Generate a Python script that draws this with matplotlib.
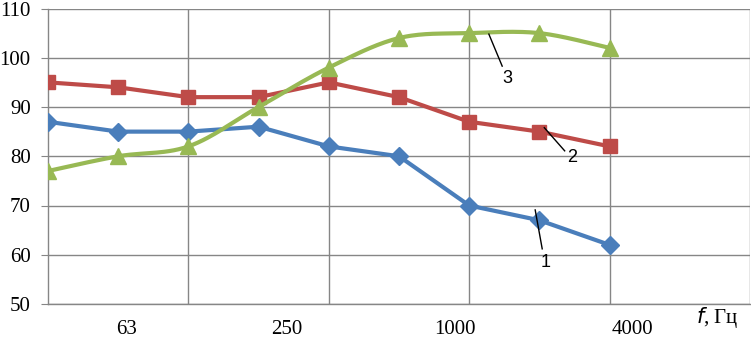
import numpy as np
import matplotlib
matplotlib.use('Agg')
import matplotlib.pyplot as plt

# octave-band points (9 of them), only some are labelled on the picture
x_pos = list(range(9))
s1 = [87, 85, 85, 86, 82, 80, 70, 67, 62]       # curve 1
s2 = [95, 94, 92, 92, 95, 92, 87, 85, 82]       # curve 2
s3 = [77, 80, 82, 90, 98, 104, 105, 105, 102]   # curve 3 (smoothed)
freq_labels = ['63', '250', '1000', '4000']
freq_label_x = [1.12, 3.4, 5.8, 8.32]

blue = '#4A7EBB'
red = '#BE4B48'
green = '#98B954'
grid_c = '#868686'


def smooth(xs, ys, n=30):
    # bezier smoothing like the spreadsheet's "smoothed line"
    p = np.column_stack([xs, ys]).astype(float)
    out = [p[0]]
    for i in range(len(p) - 1):
        p0 = p[i - 1] if i > 0 else p[i]
        p3 = p[i + 2] if i + 2 < len(p) else p[i + 1]
        c1 = p[i] + (p[i + 1] - p0) / 6
        c2 = p[i + 1] - (p3 - p[i]) / 6
        t = np.linspace(0, 1, n)[1:, None]
        seg = ((1 - t) ** 3) * p[i] + 3 * ((1 - t) ** 2) * t * c1 + 3 * (1 - t) * t ** 2 * c2 + t ** 3 * p[i + 1]
        out.extend(seg)
    out = np.array(out)
    return out[:, 0], out[:, 1]


fig = plt.figure(figsize=(7.51, 3.40), dpi=100)
ax = fig.add_axes([48 / 751, 36 / 340, 702 / 751, 295.5 / 340])

ax.set_xlim(0, 10)
ax.set_ylim(50, 110)
ax.set_xticks([2, 4, 6, 8, 10])
ax.set_yticks(range(50, 111, 10))
ax.grid(True, color=grid_c, lw=1)
ax.set_axisbelow(True)
for sp in ['top', 'right']:
    ax.spines[sp].set_visible(False)
for sp in ['left', 'bottom']:
    ax.spines[sp].set_color(grid_c)
    ax.spines[sp].set_linewidth(1)
ax.tick_params(axis='y', length=5, color=grid_c, pad=7.5, labelsize=15)
ax.tick_params(axis='x', length=0, labelbottom=False)
for lab in ax.get_yticklabels():
    lab.set_fontfamily('Liberation Serif')

ax.plot(x_pos, s1, color=blue, lw=3, marker='D', ms=9, mfc=blue, mec=blue, zorder=3)
ax.plot(x_pos, s2, color=red, lw=3, marker='s', ms=10, mfc=red, mec=red, zorder=3)
sx, sy = smooth(x_pos, s3)
ax.plot(sx, sy, color=green, lw=3, zorder=3)
ax.plot(x_pos, s3, ls='none', marker='^', ms=11, mfc=green, mec=green, zorder=3)

for lx, lt in zip(freq_label_x, freq_labels):
    ax.text(lx, 44.9, lt, ha='center', va='center', fontsize=15,
            family='Liberation Serif', clip_on=False)
fig.text(717 / 751, 1 - 318 / 340, '$f$, Гц', ha='center', va='center',
         fontsize=15, family='Liberation Serif')

# callouts for the curve numbers
ax.plot([6.28, 6.47], [104.8, 98.3], color='black', lw=1, zorder=4)
ax.text(6.55, 95.8, '3', ha='center', va='center', fontsize=13, family='Liberation Sans')
ax.plot([7.07, 7.36], [85.8, 81.1], color='black', lw=1, zorder=4)
ax.text(7.47, 79.8, '2', ha='center', va='center', fontsize=13, family='Liberation Sans')
ax.plot([6.94, 7.04], [69.1, 61.2], color='black', lw=1, zorder=4)
ax.text(7.09, 58.5, '1', ha='center', va='center', fontsize=13, family='Liberation Sans')

fig.savefig('out.png', dpi=100)
